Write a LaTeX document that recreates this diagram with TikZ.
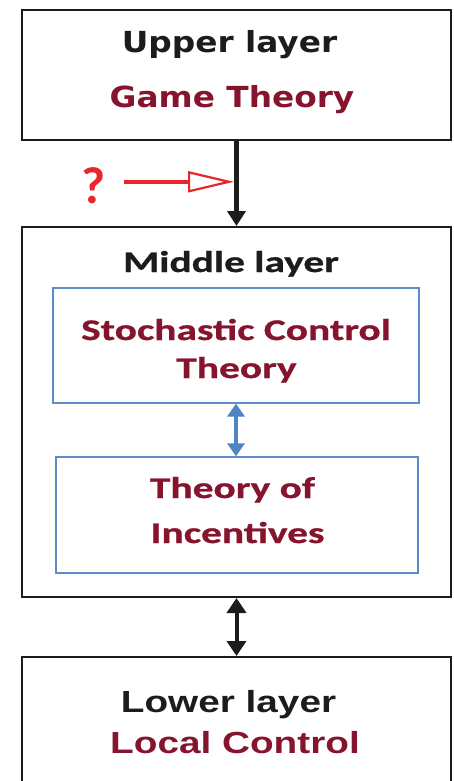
\documentclass[tikz,border=0pt]{standalone}
\usepackage{fontspec}
\usepackage{xcolor}
\usetikzlibrary{positioning, arrows.meta, calc}
\newfontfamily\upfont{DejaVu Sans}[FakeStretch=1.13]
\newfontfamily\midfont{Carlito}[FakeStretch=1.38, FakeBold=0.8]
\newfontfamily\lowfont{Liberation Sans}[FakeStretch=1.27]
\newfontfamily\askfont{Carlito}
\newcommand{\upstyle}{\upfont\bfseries\fontsize{29}{34}\selectfont}
\newcommand{\midstyle}{\midfont\bfseries\fontsize{30}{36}\selectfont}
\newcommand{\lowstyle}{\lowfont\bfseries\fontsize{30.5}{36}\selectfont}
\definecolor{theoryred}{RGB}{135,20,45}
\definecolor{layerblack}{RGB}{28,28,28}
\definecolor{askred}{RGB}{232,38,44}
\definecolor{innerblue}{RGB}{95,140,200}
\definecolor{linkblue}{RGB}{80,132,196}
\tikzset{
  layerbox/.style={draw=layerblack, line width=2pt, minimum width=429pt, inner sep=0pt},
  theorybox/.style={draw=innerblue, line width=1.3pt, inner sep=0pt},
  lbl/.style={anchor=base, inner sep=0pt, text=layerblack},
  thy/.style={anchor=base, inner sep=0pt, text=theoryred},
}
\begin{document}
\begin{tikzpicture}[x=1pt, y=-1pt]
\useasboundingbox (0,0) rectangle (454,781);
\fill[white] (0,0) rectangle (454,781);
\clip (0,0) rectangle (454,781);

% Upper layer
\node[layerbox, minimum height=130pt] (upper) at (236.5,75) {};
\node[lbl, font=\upstyle] (upLbl) at (229.5,53) {Upper layer};
\node[thy, font=\upstyle] (upThy) at (232,108) {Game Theory};

% Middle layer
\node[layerbox, minimum height=370pt] (middle) at (236.5,412) {};
\node[lbl, font=\midstyle] (midLbl) at (231,272) {Middle layer};
\node[theorybox, minimum width=366pt, minimum height=115pt] (stoch) at (236,345.5) {};
\node[thy, font=\midstyle] (stochA) at (236,340) {Stochastic Control};
\node[thy, font=\midstyle] (stochB) at (236.5,378) {Theory};
\node[theorybox, minimum width=362pt, minimum height=116pt] (incent) at (237,515) {};
\node[thy, font=\midstyle] (incentA) at (232.5,498) {Theory of};
\node[thy, font=\midstyle] (incentB) at (237.5,543) {Incentives};

% Lower layer
\node[layerbox, minimum height=140pt] (lower) at (236.5,727) {};
\node[lbl, font=\lowstyle] (lowLbl) at (228.5,712) {Lower layer};
\node[thy, font=\lowstyle] (lowThy) at (235,753) {Local Control};

% Links
\draw[layerblack, line width=4.5pt, -{Triangle[length=15pt, width=18pt]}] (upper.south) -- (middle.north)
  coordinate[pos=0.48] (hit);
\draw[linkblue, line width=4pt, {Triangle[length=13pt, width=17pt]}-{Triangle[length=13pt, width=17pt]}]
  (stoch.south) -- (stoch.south |- incent.north);
\draw[layerblack, line width=4pt, {Triangle[length=15pt, width=19pt]}-{Triangle[length=15pt, width=19pt]}]
  (middle.south) -- (lower.north);

% Question
\node[anchor=base, inner sep=0pt, text=askred, font=\askfont\bfseries\fontsize{52}{60}\selectfont] (ask) at (94,203) {?};
\draw[askred, line width=3.5pt, shorten <=18pt,
  -{Triangle[length=46pt, width=21pt, fill=white, line width=2.2pt]}]
  (ask.east |- hit) -- ([xshift=-2.5pt]hit);
\end{tikzpicture}
\end{document}
